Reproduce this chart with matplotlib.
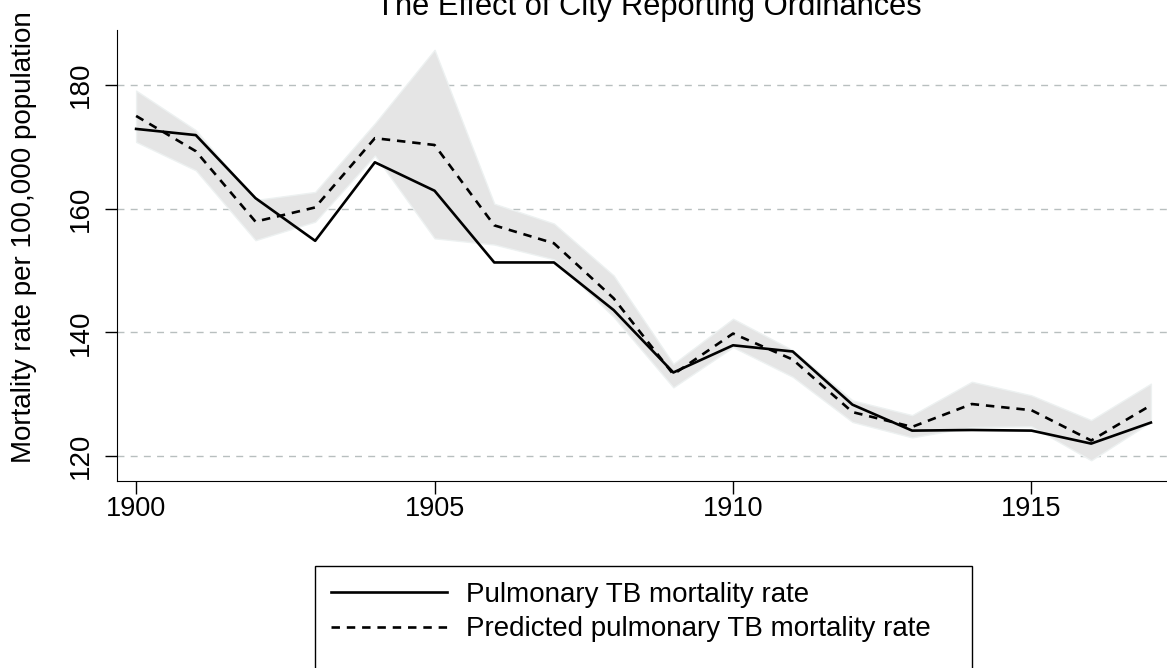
import matplotlib
matplotlib.use("Agg")
import matplotlib.pyplot as plt
from matplotlib.patches import Rectangle
from matplotlib.lines import Line2D

plt.rcParams['font.family'] = ['Liberation Sans', 'DejaVu Sans']

# data
years = [1900, 1901, 1902, 1903, 1904, 1905, 1906, 1907, 1908,
         1909, 1910, 1911, 1912, 1913, 1914, 1915, 1916, 1917]
actual = [172.9, 171.9, 161.7, 154.8, 167.5, 162.9, 151.3, 151.3, 143.6,
          133.5, 137.9, 136.9, 128.3, 124.1, 124.2, 124.1, 122.0, 125.4]
predicted = [175.0, 169.3, 157.9, 160.2, 171.4, 170.3, 157.3, 154.4, 145.5,
             133.2, 139.8, 135.6, 127.1, 124.7, 128.4, 127.4, 122.5, 128.2]
ci_upper = [179.1, 172.7, 161.4, 162.7, 173.8, 185.7, 160.8, 157.6, 149.2,
            134.9, 142.2, 137.1, 129.0, 126.6, 132.0, 129.8, 125.8, 131.7]
ci_lower = [170.8, 166.2, 154.9, 157.9, 168.6, 155.2, 154.2, 151.8, 142.5,
            131.1, 137.6, 132.8, 125.5, 123.0, 124.7, 124.8, 119.3, 125.5]

y_ticks = [120, 140, 160, 180]
x_ticks = [1900, 1905, 1910, 1915]
labels = ["Pulmonary TB mortality rate", "Predicted pulmonary TB mortality rate"]

W, H = 1167, 668
fig = plt.figure(figsize=(W / 100, H / 100), dpi=100)
ax = fig.add_axes([117 / W, 187 / H, 1050 / W, 451 / H])

ax.fill_between(years, ci_lower, ci_upper, color='#e5e5e5', edgecolor='#edf1f1', linewidth=1, zorder=2)
ax.plot(years, actual, color='black', lw=1.9, zorder=4)
ax.plot(years, predicted, color='black', lw=1.9, dashes=(3.2, 2.6), zorder=4)

for v in y_ticks:
    ax.axhline(v, color='#b8bfbf', lw=1, dashes=(5, 4.5), zorder=1)

ax.set_xlim(1899.68, 1917.27)
ax.set_ylim(115.95, 188.9)
ax.set_xticks(x_ticks)
ax.set_yticks(y_ticks)
for s in ['top', 'right']:
    ax.spines[s].set_visible(False)
ax.tick_params(axis='both', direction='out', length=9, width=1, labelsize=19.5)
ax.tick_params(axis='x', pad=2)
ax.tick_params(axis='y', pad=8, labelsize=20)
for lab in ax.get_yticklabels():
    lab.set_rotation(90)
    lab.set_va('center')

fig.text(649 / W, 1 - 15 / H, "The Effect of City Reporting Ordinances",
         ha='center', va='baseline', fontsize=22.2)
fig.text(24 / W, 1 - 237 / H, "Mortality rate per 100,000 population",
         ha='center', va='center', rotation=90, fontsize=20)

# legend frame (bottom runs off the figure, as in the reference)
fig.patches.append(Rectangle((315 / W, -0.05), 657 / W, (1 - 566 / H) + 0.05,
                             transform=fig.transFigure, fill=False,
                             edgecolor='black', lw=1))
handles = [Line2D([], [], color='black', lw=1.9),
           Line2D([], [], color='black', lw=1.9, dashes=(3.2, 2.6))]
fig.legend(handles, labels, loc='upper left', bbox_to_anchor=(315 / W, 1 - 566 / H),
           frameon=False, fontsize=20, handlelength=4.2, handletextpad=0.66,
           labelspacing=0.32, borderpad=0.56, borderaxespad=0)

fig.savefig("out.png", dpi=100)
